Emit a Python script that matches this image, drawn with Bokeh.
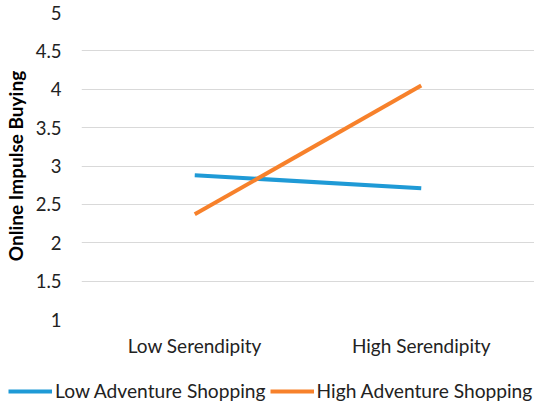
from bokeh.plotting import figure
from bokeh.layouts import column, row
from bokeh.models import FactorRange, Range1d, FixedTicker, Legend, LegendItem
from bokeh.embed import file_html
from bokeh.resources import INLINE

categories = ["Low Serendipity", "High Serendipity"]
series_names = ["Low Adventure Shopping", "High Adventure Shopping"]
low_adventure = [2.88, 2.71]
high_adventure = [2.37, 4.05]
y_ticks = [1, 1.5, 2, 2.5, 3, 3.5, 4, 4.5, 5]
y_tick_labels = ["1", "1.5", "2", "2.5", "3", "3.5", "4", "4.5", "5"]

font = "Lato"
blue = "#1F9AD6"
orange = "#F7812B"

p = figure(
    x_range=FactorRange(*categories),
    y_range=Range1d(1, 5),
    width=534,
    height=366,
    output_backend="svg",
    toolbar_location=None,
    min_border_left=69,
    min_border_top=12,
    min_border_right=0,
    min_border_bottom=47,
)
p.outline_line_color = None

p.line(categories, low_adventure, line_width=4, color=blue)
p.line(categories, high_adventure, line_width=4, color=orange)

# y axis
p.yaxis.ticker = FixedTicker(ticks=y_ticks)
p.yaxis.major_label_overrides = {t: l for t, l in zip(y_ticks, y_tick_labels)}
p.yaxis.axis_label = "Online Impulse Buying"
p.yaxis.axis_label_text_font = font
p.yaxis.axis_label_text_font_style = "bold"
p.yaxis.axis_label_text_font_size = "19px"
p.yaxis.axis_label_text_color = "black"
p.yaxis.axis_label_standoff = 6
p.yaxis.major_label_text_font = font
p.yaxis.major_label_text_font_size = "18.5px"
p.yaxis.major_label_text_color = "#222222"
p.yaxis.major_label_standoff = 14
p.yaxis.axis_line_color = None
p.yaxis.major_tick_line_color = None
p.yaxis.minor_tick_line_color = None

# x axis
p.xaxis.major_label_text_font = font
p.xaxis.major_label_text_font_size = "19px"
p.xaxis.major_label_text_color = "#222222"
p.xaxis.major_label_standoff = 8
p.xaxis.axis_line_color = None
p.xaxis.major_tick_line_color = None

p.xgrid.grid_line_color = None
p.ygrid.grid_line_color = "#D9D9D9"
p.ygrid.grid_line_width = 1

# legend lives in its own strip so it can be wider than the plot area
leg_fig = figure(
    x_range=Range1d(0, 1),
    y_range=Range1d(0, 1),
    width=542,
    height=36,
    output_backend="svg",
    toolbar_location=None,
    min_border=0,
)
leg_fig.axis.visible = False
leg_fig.grid.visible = False
leg_fig.outline_line_color = None
# proxies drawn off-screen, only used for the legend swatches
r_low = leg_fig.line([5, 6], [5, 6], line_width=4, color=blue)
r_high = leg_fig.line([5, 6], [5, 6], line_width=4, color=orange)

legend = Legend(
    items=[
        LegendItem(label=series_names[0], renderers=[r_low]),
        LegendItem(label=series_names[1], renderers=[r_high]),
    ],
    orientation="horizontal",
    location=(8, 0),
    label_text_font=font,
    label_text_font_size="19.2px",
    label_text_color="#222222",
    glyph_width=44,
    glyph_height=20,
    label_standoff=3,
    spacing=4,
    padding=0,
    margin=0,
    border_line_color=None,
    background_fill_alpha=0,
)
leg_fig.add_layout(legend, "center")

layout = column(p, row(leg_fig))
open("out.html", "w").write(file_html(layout, INLINE))
